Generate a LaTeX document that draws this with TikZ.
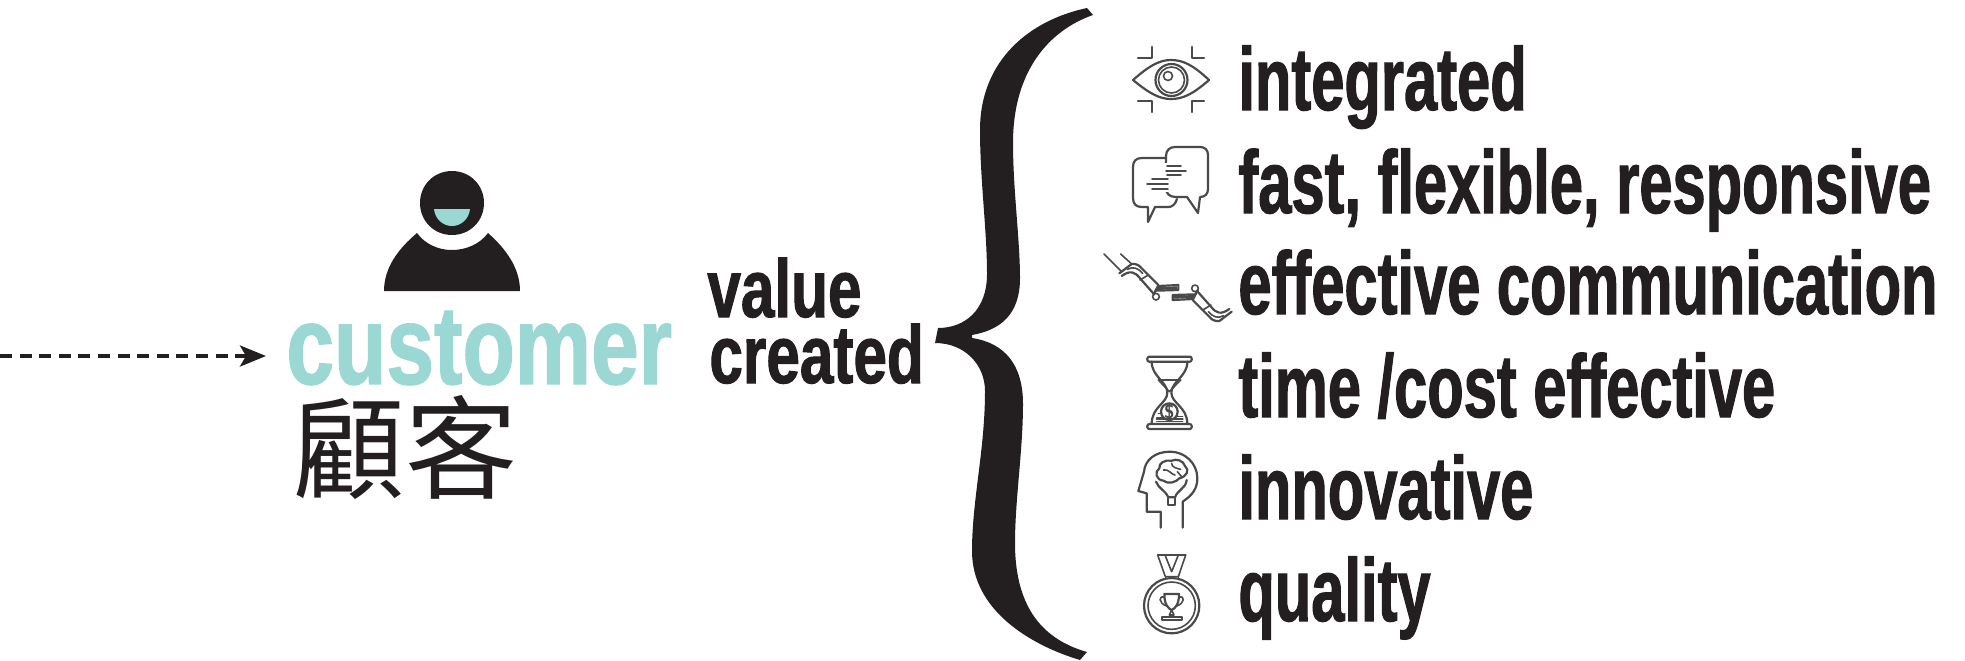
\documentclass[tikz,border=0pt]{standalone}
\usepackage{fontspec}
\usetikzlibrary{arrows.meta}
\newfontfamily\condfont[FakeStretch=0.67,FakeBold=1.2]{Liberation Sans Bold}
\newfontfamily\valfont[FakeStretch=0.735,FakeBold=1.2]{Liberation Sans Bold}
\newfontfamily\custfont[FakeStretch=0.765,FakeBold=1.2]{Liberation Sans Bold}
\newfontfamily\cjkfont{Noto Sans CJK TC}
\definecolor{ink}{HTML}{231F20}
\definecolor{teal}{HTML}{9BD8D3}
\definecolor{iconink}{HTML}{4A4A4A}
\tikzset{
  itemlabel/.style={anchor=base west,inner sep=0pt,text=ink,font=\condfont\fontsize{44.5}{50}\selectfont},
  valuelabel/.style={anchor=base west,inner sep=0pt,text=ink,font=\valfont\fontsize{41}{46}\selectfont},
  icon/.style={draw=iconink,line width=1.1pt,line cap=round,line join=round,fill=none},
  iconthin/.style={draw=iconink,line width=0.8pt,line cap=round,line join=round,fill=none},
  zoomed/.style={x=0.16667pt,y=-0.16667pt},
}
\begin{document}
\begin{tikzpicture}[x=0.5pt,y=-0.5pt]
\useasboundingbox (0,0) rectangle (1965,660);
% person
\fill[ink] (452,171) .. controls (434,171) and (420,185) .. (420,203) .. controls (420,221) and (434,235) .. (452,235) .. controls (470,235) and (484,221) .. (484,203) .. controls (484,185) and (470,171) .. (452,171) -- cycle;
\fill[teal] (434,209) -- (470,209) .. controls (469,219) and (461,226) .. (452,226) .. controls (443,226) and (435,219) .. (434,209) -- cycle;
\fill[ink] (384,291) .. controls (384,268) and (398,249) .. (417,233) .. controls (425,244) and (438,250) .. (452,250) .. controls (466,250) and (480,244) .. (488,233) .. controls (506,249) and (520,268) .. (520,291) -- cycle;
% labels
\node[anchor=base west,inner sep=0pt,text=teal,font=\custfont\fontsize{56}{60}\selectfont] (customer) at (286,384) {customer};
\node[anchor=base west,inner sep=0pt,text=ink,font=\cjkfont\fontsize{56}{60}\selectfont] (guke) at (293,490) {顧客};
\node[valuelabel] (value) at (707,317) {value};
\node[valuelabel] (created) at (709,383) {created};
% arrow
\coordinate (arrowstart) at (0,356);
\draw[ink,line width=1.9pt,dash pattern=on 6pt off 3.8pt,-{Stealth[length=13pt,width=10.5pt,inset=3pt]}] (arrowstart) -- ([xshift=-10pt]arrowstart -| customer.west);
% brace
\fill[ink] (1087,8) -- (1093,15) .. controls (1050,30) and (1013,70) .. (1013,143)
  .. controls (1013,190) and (1020,240) .. (1020,278)
  .. controls (1020,315) and (1000,330) .. (972,335) -- (972,338)
  .. controls (1005,343) and (1023,365) .. (1023,404)
  .. controls (1023,450) and (1015,500) .. (1015,543)
  .. controls (1015,610) and (1045,640) .. (1087,652) -- (1080,660)
  .. controls (1030,645) and (972,610) .. (972,551)
  .. controls (972,500) and (985,450) .. (985,391)
  .. controls (985,365) and (965,343) .. (935,343) -- (938,328)
  .. controls (965,328) and (987,310) .. (987,274)
  .. controls (987,230) and (980,180) .. (980,130)
  .. controls (980,60) and (1030,20) .. (1087,8) -- cycle;
% item labels
\node[itemlabel] (integrated) at (1238,110) {integrated};
\node[itemlabel] (fast) at (1238,213) {fast, flexible, responsive};
\node[itemlabel] (effective) at (1238,314) {effective communication};
\node[itemlabel] (time) at (1238,417) {time /cost effective};
\node[itemlabel] (innovative) at (1238,519) {innovative};
\node[itemlabel] (quality) at (1238,621) {quality};
% eye
\draw[icon] (1133,80) .. controls (1150,65) and (1160,60) .. (1171,60) .. controls (1183,60) and (1193,65) .. (1209,80) .. controls (1193,94) and (1183,99) .. (1171,99) .. controls (1160,99) and (1150,94) .. (1133,80) -- cycle;
\draw[icon] (1171.5,80) circle (16);
\draw[iconthin] (1171.5,80) circle (13);
\draw[iconthin] (1168,76) circle (4.5);
\draw[icon] (1138,58) -- (1152,58) -- (1152,47);
\draw[icon] (1192,47) -- (1192,58) -- (1204,58);
\draw[icon] (1138,101) -- (1152,101) -- (1152,112);
\draw[icon] (1192,112) -- (1192,101) -- (1204,101);
% chat
\draw[icon] (1166,158) -- (1142,158) .. controls (1136,158) and (1133,161) .. (1133,167) -- (1133,198) .. controls (1133,204) and (1136,207) .. (1142,207) -- (1148,207) -- (1148,222) -- (1155,207) -- (1168,207) .. controls (1172,207) and (1175,205) .. (1177,199);
\draw[icon,fill=white] (1175,147) -- (1200,147) .. controls (1205,147) and (1208,150) .. (1208,155) -- (1208,189) .. controls (1208,194) and (1205,197) .. (1200,197) -- (1198,213) -- (1187,197) -- (1176,197) .. controls (1170,197) and (1166,194) .. (1166,188) -- (1166,156) .. controls (1166,150) and (1170,147) .. (1175,147) -- cycle;
\fill[white] (1164,163) rectangle (1168,192);
\draw[iconthin] (1167,166) -- (1181,166) (1166,171) -- (1186,171) (1167,175) -- (1181,175);
\draw[iconthin] (1152,179) -- (1168,179) (1147,184) -- (1168,184) (1152,189) -- (1168,189);
% robot arms
\begin{scope}[shift={(1090,240)},zoomed]
  \draw[iconthin] (42,42) -- (95,95) (92,42) -- (125,72);
  \foreach \flip in {1,-1}{
   \begin{scope}[shift={(256.5,157.5)},xscale=\flip,yscale=\flip,shift={(-256.5,-157.5)}]
    \draw[icon] (88,100) -- (125,72) .. controls (140,70) and (150,78) .. (155,85) -- (205,135) -- (190,165);
    \draw[icon] (95,108) .. controls (120,90) and (135,95) .. (150,115) -- (190,160);
    \draw[iconthin] (112,88) .. controls (130,78) and (145,85) .. (158,100);
    \draw[iconthin] (150,120) -- (175,105);
    \draw[iconthin] (198,170) circle (10);
    \draw[icon] (205,138) -- (265,135) -- (265,150) -- (196,152);
    \draw[draw=iconink,line width=1.4pt] (200,146) -- (262,143);
   \end{scope}
  }
\end{scope}
% hourglass
\begin{scope}[shift={(1090,240)},zoomed]
  \draw[icon,rounded corners=1pt] (172,350) rectangle (305,365);
  \draw[icon,rounded corners=1pt] (172,552) rectangle (305,567);
  \draw[icon] (185,365) .. controls (185,410) and (232,425) .. (232,458) .. controls (232,490) and (185,500) .. (185,552);
  \draw[icon] (292,365) .. controls (292,410) and (244,425) .. (244,458) .. controls (244,490) and (292,500) .. (292,552);
  \draw[iconthin] (205,420) -- (272,420) -- (238,455) -- cycle;
  \draw[icon,fill=white] (238,515) circle (25);
  \node[inner sep=0pt,text=iconink,font=\sffamily\bfseries\fontsize{9.5}{10}\selectfont] (dollar) at (238,515) {\$};
  \draw[iconthin] (205,520) -- (214,520) (200,532) -- (215,532) (262,530) -- (278,530) (200,544) -- (278,544);
  \draw[icon] (200,538) -- (278,538);
\end{scope}
% head
\begin{scope}[shift={(1120,440)},zoomed]
  \draw[icon] (188,263) -- (188,185) .. controls (218,165) and (232,145) .. (232,115) .. controls (232,70) and (195,35) .. (150,35) .. controls (105,35) and (75,60) .. (72,95) -- (55,153) -- (80,160) -- (80,215) -- (122,215) -- (122,263);
  \draw[icon] (155,62) .. controls (135,58) and (115,70) .. (118,85) .. controls (102,95) and (108,120) .. (130,122) .. controls (145,135) and (170,125) .. (178,115) .. controls (200,110) and (210,90) .. (195,78) .. controls (190,62) and (170,55) .. (155,62) -- cycle;
  \draw[iconthin] (130,90) .. controls (145,85) and (155,105) .. (165,105) (155,70) .. controls (155,82) and (170,85) .. (182,88) (172,95) -- (185,110);
  \draw[icon] (108,125) .. controls (115,145) and (135,150) .. (145,172) -- (165,172) .. controls (172,150) and (198,145) .. (200,120);
  \draw[icon] (143,175) -- (143,195) -- (165,195) -- (165,175);
\end{scope}
% medal
\begin{scope}[shift={(1120,440)},zoomed]
  \draw[icon] (155,497) circle (83);
  \draw[iconthin] (155,497) circle (71);
  \draw[iconthin] (113,345) -- (197,345);
  \draw[iconthin] (113,345) -- (136,410) -- (175,410) -- (197,345);
  \draw[iconthin] (135,345) -- (155,395) -- (175,345);
  \draw[iconthin] (136,410) -- (136,418) (175,410) -- (175,418);
  \draw[icon] (133,462) -- (177,462) .. controls (177,495) and (165,505) .. (155,510) .. controls (145,505) and (133,495) .. (133,462) -- cycle;
  \draw[iconthin] (133,472) .. controls (115,465) and (115,490) .. (140,498) (177,472) .. controls (195,465) and (195,490) .. (170,498);
  \draw[iconthin] (155,510) -- (148,525) -- (162,525) -- cycle;
  \draw[icon] (125,530) rectangle (187,540);
\end{scope}
\end{tikzpicture}
\end{document}
